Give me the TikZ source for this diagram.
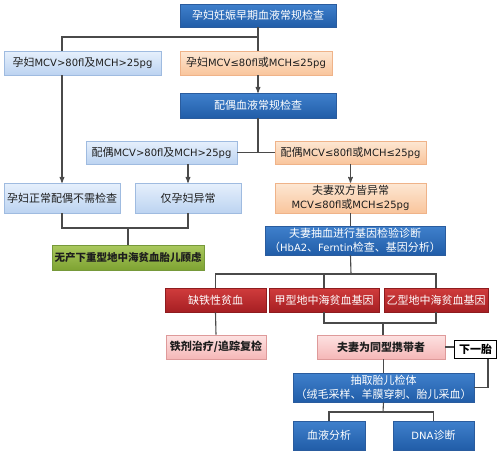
\documentclass[tikz,border=0pt]{standalone}
\usepackage{fontspec}
\setmainfont{Noto Sans CJK SC}
\newfontfamily\latinfont{DejaVu Sans}
\newcommand\lat[1]{{\latinfont\fontsize{10}{13}\selectfont #1}}
\usepackage{tikz}
\usetikzlibrary{arrows,shadows}

\definecolor{lineC}{HTML}{4A4A4A}
\definecolor{txtC}{HTML}{1E1E1E}
\definecolor{dbTop}{HTML}{3F80CC}
\definecolor{dbBot}{HTML}{215DA8}
\definecolor{dbLine}{HTML}{2A5C9E}
\definecolor{lbTop}{HTML}{E6F0FC}
\definecolor{lbBot}{HTML}{BCD3F1}
\definecolor{lbLine}{HTML}{9FBBE0}
\definecolor{orTop}{HTML}{FDE7D3}
\definecolor{orBot}{HTML}{F9C59C}
\definecolor{orLine}{HTML}{EFB389}
\definecolor{grTop}{HTML}{AAC85E}
\definecolor{grBot}{HTML}{7EA332}
\definecolor{grLine}{HTML}{76993A}
\definecolor{rdTop}{HTML}{D03C3C}
\definecolor{rdBot}{HTML}{A61F23}
\definecolor{rdLine}{HTML}{8E1C1F}
\definecolor{pkTop}{HTML}{FDE2E2}
\definecolor{pkBot}{HTML}{F5B7B7}
\definecolor{pkLine}{HTML}{DE9A9A}

\tikzset{
  box/.style={draw, rectangle, inner sep=1pt, align=center, font=\fontsize{11}{13.5}\selectfont,
              drop shadow={shadow xshift=1pt, shadow yshift=-1.2pt, opacity=.3}},
  darkbox/.style={box, draw=dbLine, top color=dbTop, bottom color=dbBot, text=white},
  lightbox/.style={box, draw=lbLine, top color=lbTop, bottom color=lbBot, text=txtC},
  orangebox/.style={box, draw=orLine, top color=orTop, bottom color=orBot, text=txtC},
  greenbox/.style={box, draw=grLine, top color=grTop, bottom color=grBot, text=txtC, font=\fontsize{10.5}{13}\selectfont\bfseries},
  redbox/.style={box, draw=rdLine, top color=rdTop, bottom color=rdBot, text=white},
  pinkbox/.style={box, draw=pkLine, top color=pkTop, bottom color=pkBot, text=txtC, font=\fontsize{11}{13}\selectfont\bfseries},
  nextbox/.style={draw=black, line width=1.3pt, fill=white, inner sep=1pt, text=black, font=\fontsize{11}{13}\selectfont\bfseries},
  conn/.style={draw=lineC, line width=1.1pt},
}

\begin{document}
\begin{tikzpicture}[x=1pt,y=-1pt,>=stealth',semithick]
\useasboundingbox (0,0) rectangle (500,456);
\fill[white] (0,0) rectangle (500,456);

% pregnant woman
\node[darkbox, minimum width=156pt, minimum height=23pt] (T0) at (258,15.5) {孕妇妊娠早期血液常规检查};
\node[lightbox, minimum width=157pt, minimum height=24pt] (P1) at (82.5,63) {孕妇\lat{MCV>80fl}及\lat{MCH>25pg}};
\node[orangebox, minimum width=152pt, minimum height=24pt] (P2) at (256,63) {孕妇\lat{MCV≤80fl}或\lat{MCH≤25pg}};

% spouse
\node[darkbox, minimum width=156pt, minimum height=25pt] (S0) at (258,105.5) {配偶血液常规检查};
\node[lightbox, minimum width=151pt, minimum height=23pt] (S1) at (161.5,152.5) {配偶\lat{MCV>80fl}及\lat{MCH>25pg}};
\node[orangebox, minimum width=151pt, minimum height=23pt] (S2) at (350.5,152.5) {配偶\lat{MCV≤80fl}或\lat{MCH≤25pg}};

\node[lightbox, minimum width=116pt, minimum height=30pt] (N1) at (62,198) {孕妇正常配偶不需检查};
\node[lightbox, minimum width=106pt, minimum height=30pt] (N2) at (188,198) {仅孕妇异常};
\node[orangebox, minimum width=151pt, minimum height=30pt] (B0) at (350.5,198) {夫妻双方皆异常\\\lat{MCV≤80fl}或\lat{MCH≤25pg}};
\node[greenbox, minimum width=152pt, minimum height=25pt] (OK) at (128,257.5) {无产下重型地中海贫血胎儿顾虑};

% gene test
\node[darkbox, minimum width=180pt, minimum height=29pt] (G0) at (355,240.5) {夫妻抽血进行基因检验诊断\\（\lat{HbA2}、\lat{Ferntin}检查、基因分析）};
\node[redbox, minimum width=101pt, minimum height=24pt] (R1) at (215.5,300) {缺铁性贫血};
\node[redbox, minimum width=110pt, minimum height=24pt] (R2) at (324,300) {甲型地中海贫血基因};
\node[redbox, minimum width=104pt, minimum height=24pt] (R3) at (436,300) {乙型地中海贫血基因};
\node[pinkbox, minimum width=100pt, minimum height=24pt] (K1) at (216,347) {铁剂治疗/追踪复检};
\node[pinkbox, minimum width=128pt, minimum height=24pt] (K2) at (381,347) {夫妻为同型携带者};
\node[nextbox, minimum width=42pt, minimum height=18pt] (NX) at (475.5,349.5) {下一胎};

% fetal test
\node[darkbox, minimum width=181pt, minimum height=29pt] (F0) at (383.5,387.5) {抽取胎儿检体\\（绒毛采样、羊膜穿刺、胎儿采血）};
\node[darkbox, minimum width=72pt, minimum height=29pt] (F1) at (329,435.5) {血液分析};
\node[darkbox, minimum width=81pt, minimum height=29pt] (F2) at (433.5,435.5) {\lat{DNA}诊断};

\coordinate (C1) at (62,37);
\coordinate (C2) at (128,228);
\coordinate (C3) at (351,274);
\coordinate (C4) at (383,323);
\coordinate (C5) at (383,412);

\path[conn] (T0.south) -- (T0.south |- P2.north);
\path[conn] (T0.south |- C1) -- (C1) -- (C1 |- P1.north);
\path[conn,->] (C1 |- P1.south) -- (N1.north);
\path[conn,->] (P2.south -| S0.south) -- (S0.north);
\path[conn] (S0.south) -- (S0.south |- S1.east);
\path[conn] (S1.east) -- (S2.west);
\path[conn,->] (N2.north |- S1.south) -- (N2.north);
\path[conn,->] (S2.south) -- (B0.north);
\path[conn] (N1.south) |- (C2) -| (N2.south);
\path[conn] (C2) -- (OK.north);
\path[conn] (B0.south) -- (B0.south |- G0.north);
\path[conn] (B0.south |- G0.south) -- (C3);
\path[conn] (R1.north) |- (C3) -| (R3.north);
\path[conn] (C3 -| R2.north) -- (R2.north);
\path[conn] (R1.south) -- (K1.north);
\path[conn] (R2.south) |- (C4) -| (R3.south);
\path[conn] (C4) -- (C4 |- K2.north);
\path[conn] (K2.east) -- (K2.east -| NX.west);
\path[conn] ([xshift=12.5pt]NX.south) |- (F0.east);
\path[conn] (F0.north |- K2.south) -- (F0.north);
\path[conn] (F0.south) -- (C5);
\path[conn] (F1.north) |- (C5) -| (F2.north);

\end{tikzpicture}
\end{document}
